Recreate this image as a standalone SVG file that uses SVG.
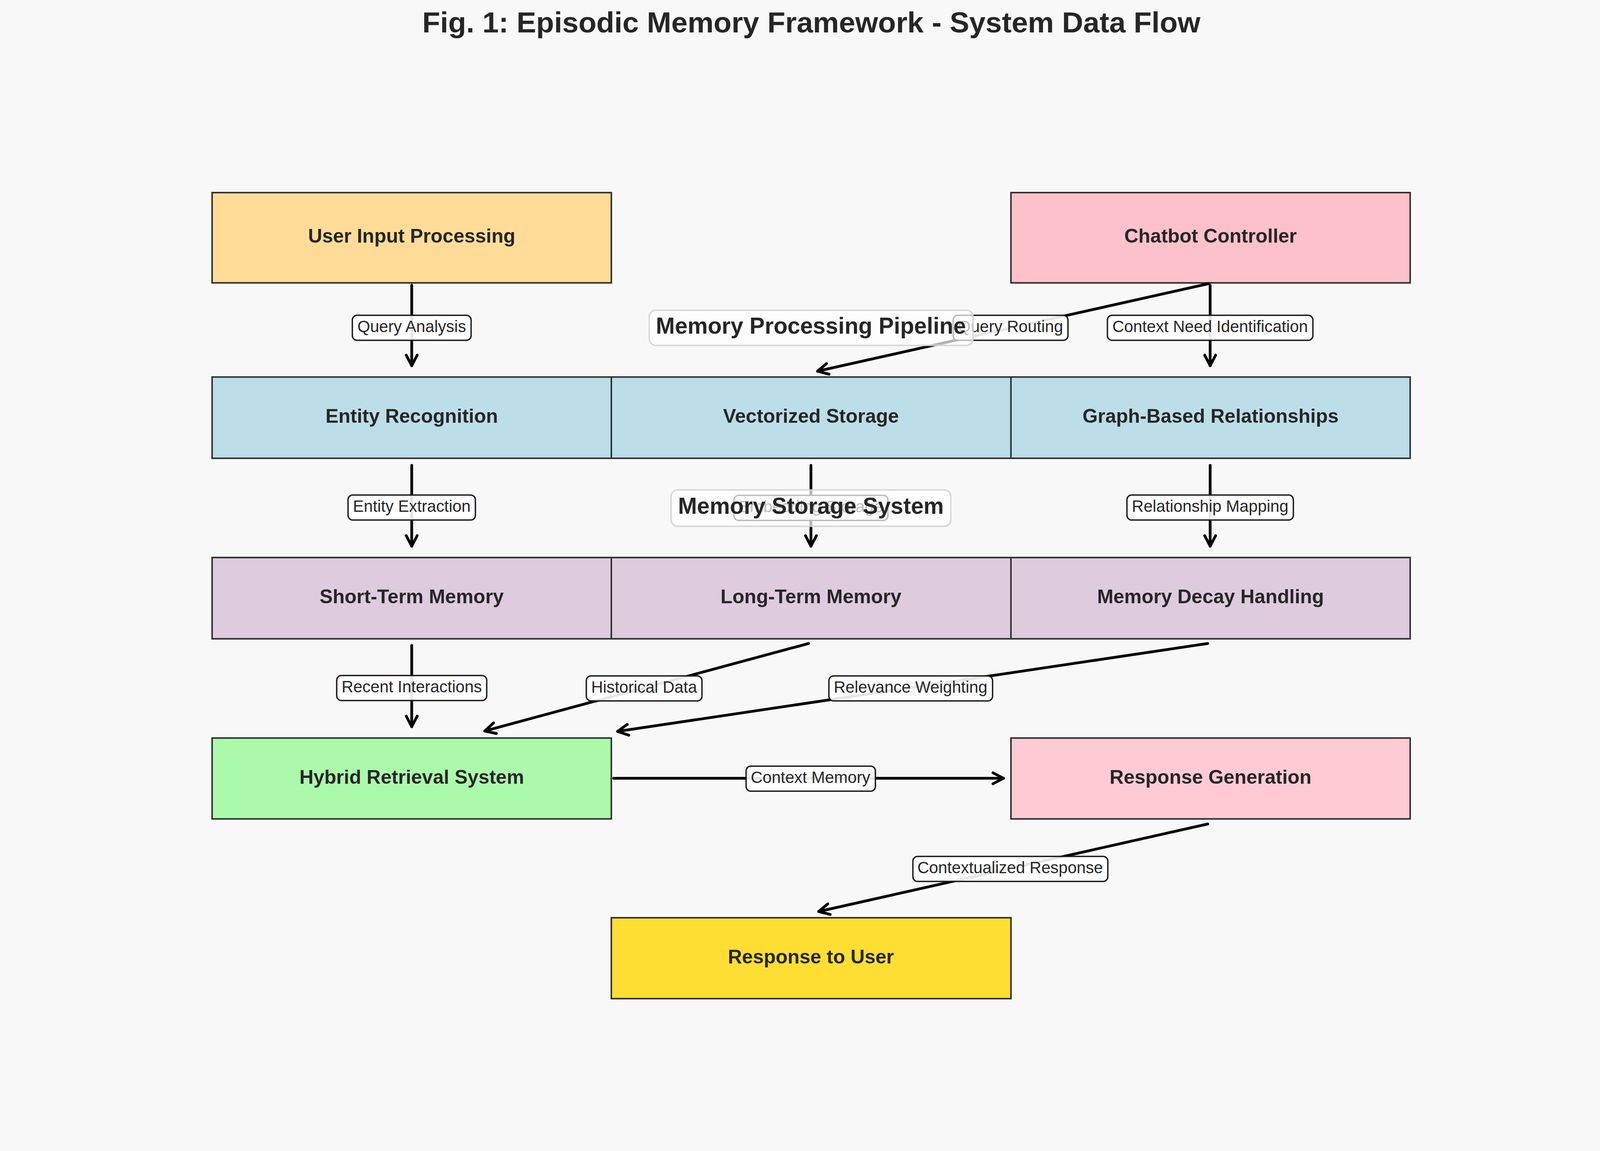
<svg xmlns="http://www.w3.org/2000/svg" width="4152" height="2946" viewBox="0 0 4152 2946">
<style>
.node rect{stroke:#333333;stroke-width:4}
.node text{font-family:"Liberation Sans",Arial,sans-serif;font-weight:bold;font-size:50px;fill:#262626;text-anchor:middle}
.conn line{stroke:#000;stroke-width:7;stroke-linecap:round;fill:none}
.elab rect{fill:#fff;fill-opacity:0.9;stroke:#1a1a1a;stroke-width:3.5}
.elab text{font-family:"Liberation Sans",Arial,sans-serif;font-size:41.7px;fill:#262626;text-anchor:middle}
.sec rect{fill:#fff;fill-opacity:0.7;stroke:#d3d3d3;stroke-opacity:0.85;stroke-width:4}
.sec text{font-family:"Liberation Sans",Arial,sans-serif;font-weight:bold;font-size:58.3px;fill:#262626;text-anchor:middle}
.title{font-family:"Liberation Sans",Arial,sans-serif;font-weight:bold;font-size:75px;fill:#262626;text-anchor:middle}
</style>
<defs>
<marker id="ah" markerUnits="userSpaceOnUse" markerWidth="80" markerHeight="80" viewBox="-40 -40 80 80" refX="0" refY="0" orient="auto" overflow="visible">
<path d="M-27,-14 L0,0 L-27,14" fill="none" stroke="#000" stroke-width="7" stroke-linecap="round" stroke-linejoin="round"/>
</marker>
</defs>
<rect x="0" y="0" width="4152" height="2946" fill="#f8f8f8"/>
<text class="title" x="2077" y="83">Fig. 1: Episodic Memory Framework - System Data Flow</text>

<g id="nodes">
<g id="user-input" class="node"><rect x="543" y="493" width="1022" height="231" fill="#fedc98"/><text x="1054" y="621">User Input Processing</text></g>
<g id="chatbot-controller" class="node"><rect x="2588" y="493" width="1022" height="231" fill="#fdc1cc"/><text x="3099" y="621">Chatbot Controller</text></g>
<g id="entity-recognition" class="node"><rect x="543" y="965" width="1022" height="208" fill="#bcdee8"/><text x="1054" y="1082">Entity Recognition</text></g>
<g id="vectorized-storage" class="node"><rect x="1565" y="965" width="1023" height="208" fill="#bcdee8"/><text x="2076" y="1082">Vectorized Storage</text></g>
<g id="graph-relationships" class="node"><rect x="2588" y="965" width="1022" height="208" fill="#bcdee8"/><text x="3099" y="1082">Graph-Based Relationships</text></g>
<g id="short-term" class="node"><rect x="543" y="1427" width="1022" height="208" fill="#decbde"/><text x="1054" y="1544">Short-Term Memory</text></g>
<g id="long-term" class="node"><rect x="1565" y="1427" width="1023" height="208" fill="#decbde"/><text x="2076" y="1544">Long-Term Memory</text></g>
<g id="memory-decay" class="node"><rect x="2588" y="1427" width="1022" height="208" fill="#decbde"/><text x="3099" y="1544">Memory Decay Handling</text></g>
<g id="hybrid-retrieval" class="node"><rect x="543" y="1889" width="1022" height="207" fill="#abfaab"/><text x="1054" y="2006">Hybrid Retrieval System</text></g>
<g id="response-generation" class="node"><rect x="2588" y="1889" width="1022" height="207" fill="#fecbd4"/><text x="3099" y="2006">Response Generation</text></g>
<g id="response-to-user" class="node"><rect x="1565" y="2349" width="1023" height="207" fill="#fede32"/><text x="2076" y="2466">Response to User</text></g>
</g>

<g id="connectors" class="conn">
<line x1="1054" y1="730" x2="1054" y2="936" marker-end="url(#ah)"/>
<line x1="3094" y1="726" x2="2093" y2="950" marker-end="url(#ah)"/>
<line x1="3098" y1="730" x2="3098" y2="936" marker-end="url(#ah)"/>
<line x1="1054" y1="1191" x2="1054" y2="1398" marker-end="url(#ah)"/>
<line x1="2076" y1="1191" x2="2076" y2="1398" marker-end="url(#ah)"/>
<line x1="3098" y1="1191" x2="3098" y2="1398" marker-end="url(#ah)"/>
<line x1="1054" y1="1652" x2="1054" y2="1860" marker-end="url(#ah)"/>
<line x1="2070" y1="1647" x2="1241" y2="1871" marker-end="url(#ah)"/>
<line x1="3092" y1="1647" x2="1581" y2="1872" marker-end="url(#ah)"/>
<line x1="1571" y1="1992" x2="2569" y2="1992" marker-end="url(#ah)"/>
<line x1="3092" y1="2109" x2="2096" y2="2333" marker-end="url(#ah)"/>
</g>

<g id="edge-labels" class="elab">
<g><rect x="902" y="807" width="304" height="64" rx="12"/><text x="1054" y="850">Query Analysis</text></g>
<g><rect x="2440" y="807" width="294" height="64" rx="12"/><text x="2587" y="850">Query Routing</text></g>
<g><rect x="2835" y="807" width="526" height="64" rx="12"/><text x="3098" y="850">Context Need Identification</text></g>
<g><rect x="891" y="1267" width="326" height="64" rx="12"/><text x="1054" y="1310">Entity Extraction</text></g>
<g><rect x="1879" y="1268" width="394" height="64" rx="12"/><text x="2076" y="1311">Embedding Storage</text></g>
<g><rect x="2885" y="1267" width="426" height="64" rx="12"/><text x="3098" y="1310">Relationship Mapping</text></g>
<g><rect x="862" y="1729" width="384" height="64" rx="12"/><text x="1054" y="1772">Recent Interactions</text></g>
<g><rect x="1501" y="1730" width="296" height="64" rx="12"/><text x="1649" y="1773">Historical Data</text></g>
<g><rect x="2122" y="1730" width="419" height="64" rx="12"/><text x="2331" y="1773">Relevance Weighting</text></g>
<g><rect x="1910" y="1961" width="331" height="64" rx="12"/><text x="2075" y="2004">Context Memory</text></g>
<g><rect x="2337" y="2192" width="499" height="64" rx="12"/><text x="2586" y="2235">Contextualized Response</text></g>
</g>

<g id="section-labels" class="sec">
<g id="memory-processing-pipeline"><rect x="1662" y="794" width="829" height="90" rx="17"/><text x="2076" y="854">Memory Processing Pipeline</text></g>
<g id="memory-storage-system"><rect x="1718" y="1254" width="716" height="93" rx="17"/><text x="2076" y="1315">Memory Storage System</text></g>
</g>
</svg>
